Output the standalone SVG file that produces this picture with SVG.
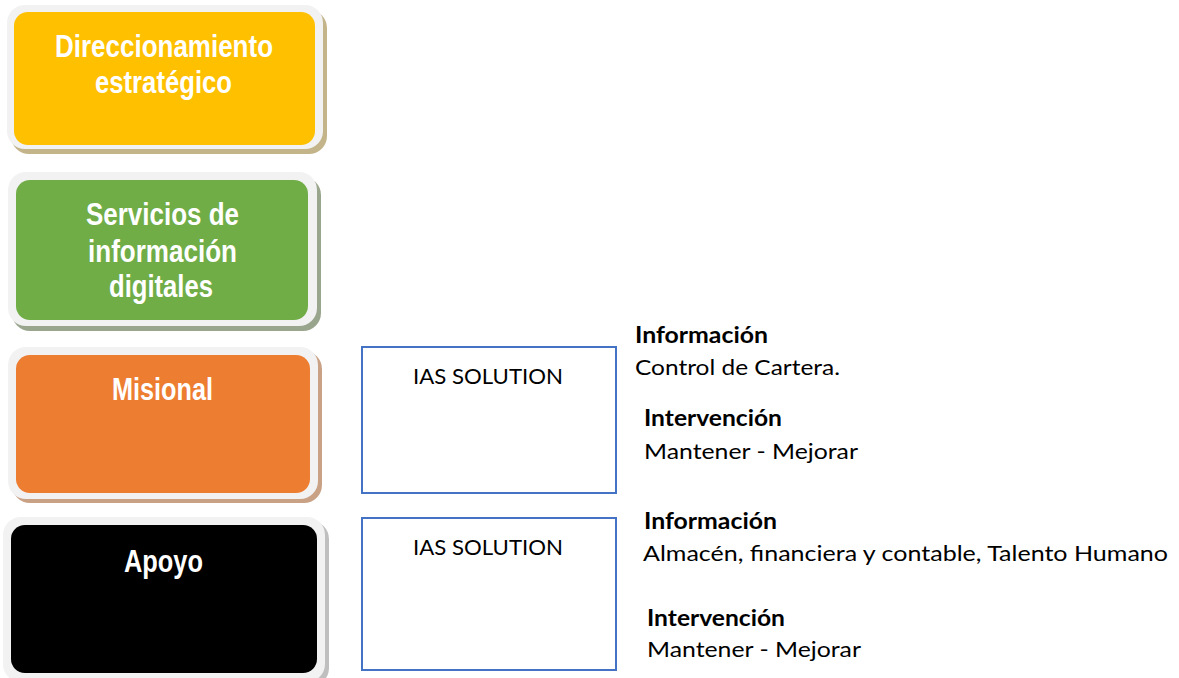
<svg xmlns="http://www.w3.org/2000/svg" width="1179" height="678" viewBox="0 0 1179 678">
<style>
.frame{fill:#f2f2f2}
.big{font-family:"Liberation Sans",Arial,sans-serif;font-weight:bold;font-size:31px;fill:#ffffff;text-anchor:middle}
.sol{fill:#ffffff;stroke:#4472C4;stroke-width:2}
.t{font-family:Lato,"Liberation Sans",Arial,sans-serif;font-size:22px;fill:#000000}
.b{font-weight:bold}
</style>
<rect width="1179" height="678" fill="#ffffff"/>
<g id="direccionamiento">
<rect x="11" y="10" width="316" height="144" rx="18" fill="#c4b48a"/>
<rect class="frame" x="7" y="5" width="316" height="144" rx="18"/>
<rect x="14" y="12" width="301" height="133" rx="14" fill="#FFC000"/>
<text class="big" x="164" y="57" textLength="218" lengthAdjust="spacingAndGlyphs">Direccionamiento</text>
<text class="big" x="163.5" y="93" textLength="137" lengthAdjust="spacingAndGlyphs">estratégico</text>
</g>
<g id="servicios">
<rect x="12" y="177" width="309" height="154" rx="18" fill="#9aa58e"/>
<rect class="frame" x="8" y="172" width="309" height="154" rx="18"/>
<rect x="16" y="180" width="292" height="140" rx="14" fill="#70AD47"/>
<text class="big" x="162.5" y="225" textLength="153" lengthAdjust="spacingAndGlyphs">Servicios de</text>
<text class="big" x="162.5" y="262" textLength="149" lengthAdjust="spacingAndGlyphs">información</text>
<text class="big" x="161" y="297" textLength="104" lengthAdjust="spacingAndGlyphs">digitales</text>
</g>
<g id="misional">
<rect x="12" y="351" width="310" height="152" rx="18" fill="#c9a286"/>
<rect class="frame" x="8" y="347" width="310" height="152" rx="18"/>
<rect x="16" y="355" width="294" height="138" rx="14" fill="#ED7D31"/>
<text class="big" x="162.5" y="400" textLength="101" lengthAdjust="spacingAndGlyphs">Misional</text>
</g>
<g id="apoyo">
<rect x="7" y="521" width="322" height="165" rx="18" fill="#bfbfbf"/>
<rect class="frame" x="3" y="517" width="322" height="165" rx="18"/>
<rect x="11" y="525" width="306" height="148" rx="14" fill="#000000"/>
<text class="big" x="163.5" y="572" textLength="79" lengthAdjust="spacingAndGlyphs">Apoyo</text>
</g>
<g id="ias1">
<rect class="sol" x="362" y="347" width="254" height="146"/>
<text class="t" x="413" y="384" textLength="150" lengthAdjust="spacingAndGlyphs">IAS SOLUTION</text>
</g>
<g id="ias2">
<rect class="sol" x="362" y="518" width="254" height="152"/>
<text class="t" x="413" y="555" textLength="150" lengthAdjust="spacingAndGlyphs">IAS SOLUTION</text>
</g>
<g id="info1">
<text class="t b" x="635" y="343" textLength="133" lengthAdjust="spacingAndGlyphs">Información</text>
<text class="t" x="635" y="375" textLength="205" lengthAdjust="spacingAndGlyphs">Control de Cartera.</text>
<text class="t b" x="644" y="426" textLength="138" lengthAdjust="spacingAndGlyphs">Intervención</text>
<text class="t" x="644" y="459" textLength="214" lengthAdjust="spacingAndGlyphs">Mantener - Mejorar</text>
</g>
<g id="info2">
<text class="t b" x="644" y="529" textLength="133" lengthAdjust="spacingAndGlyphs">Información</text>
<text class="t" x="643" y="561" textLength="525" lengthAdjust="spacingAndGlyphs">Almacén, financiera y contable, Talento Humano</text>
<text class="t b" x="647" y="626" textLength="138" lengthAdjust="spacingAndGlyphs">Intervención</text>
<text class="t" x="647" y="657" textLength="214" lengthAdjust="spacingAndGlyphs">Mantener - Mejorar</text>
</g>
<g id="connectors"></g>
</svg>
